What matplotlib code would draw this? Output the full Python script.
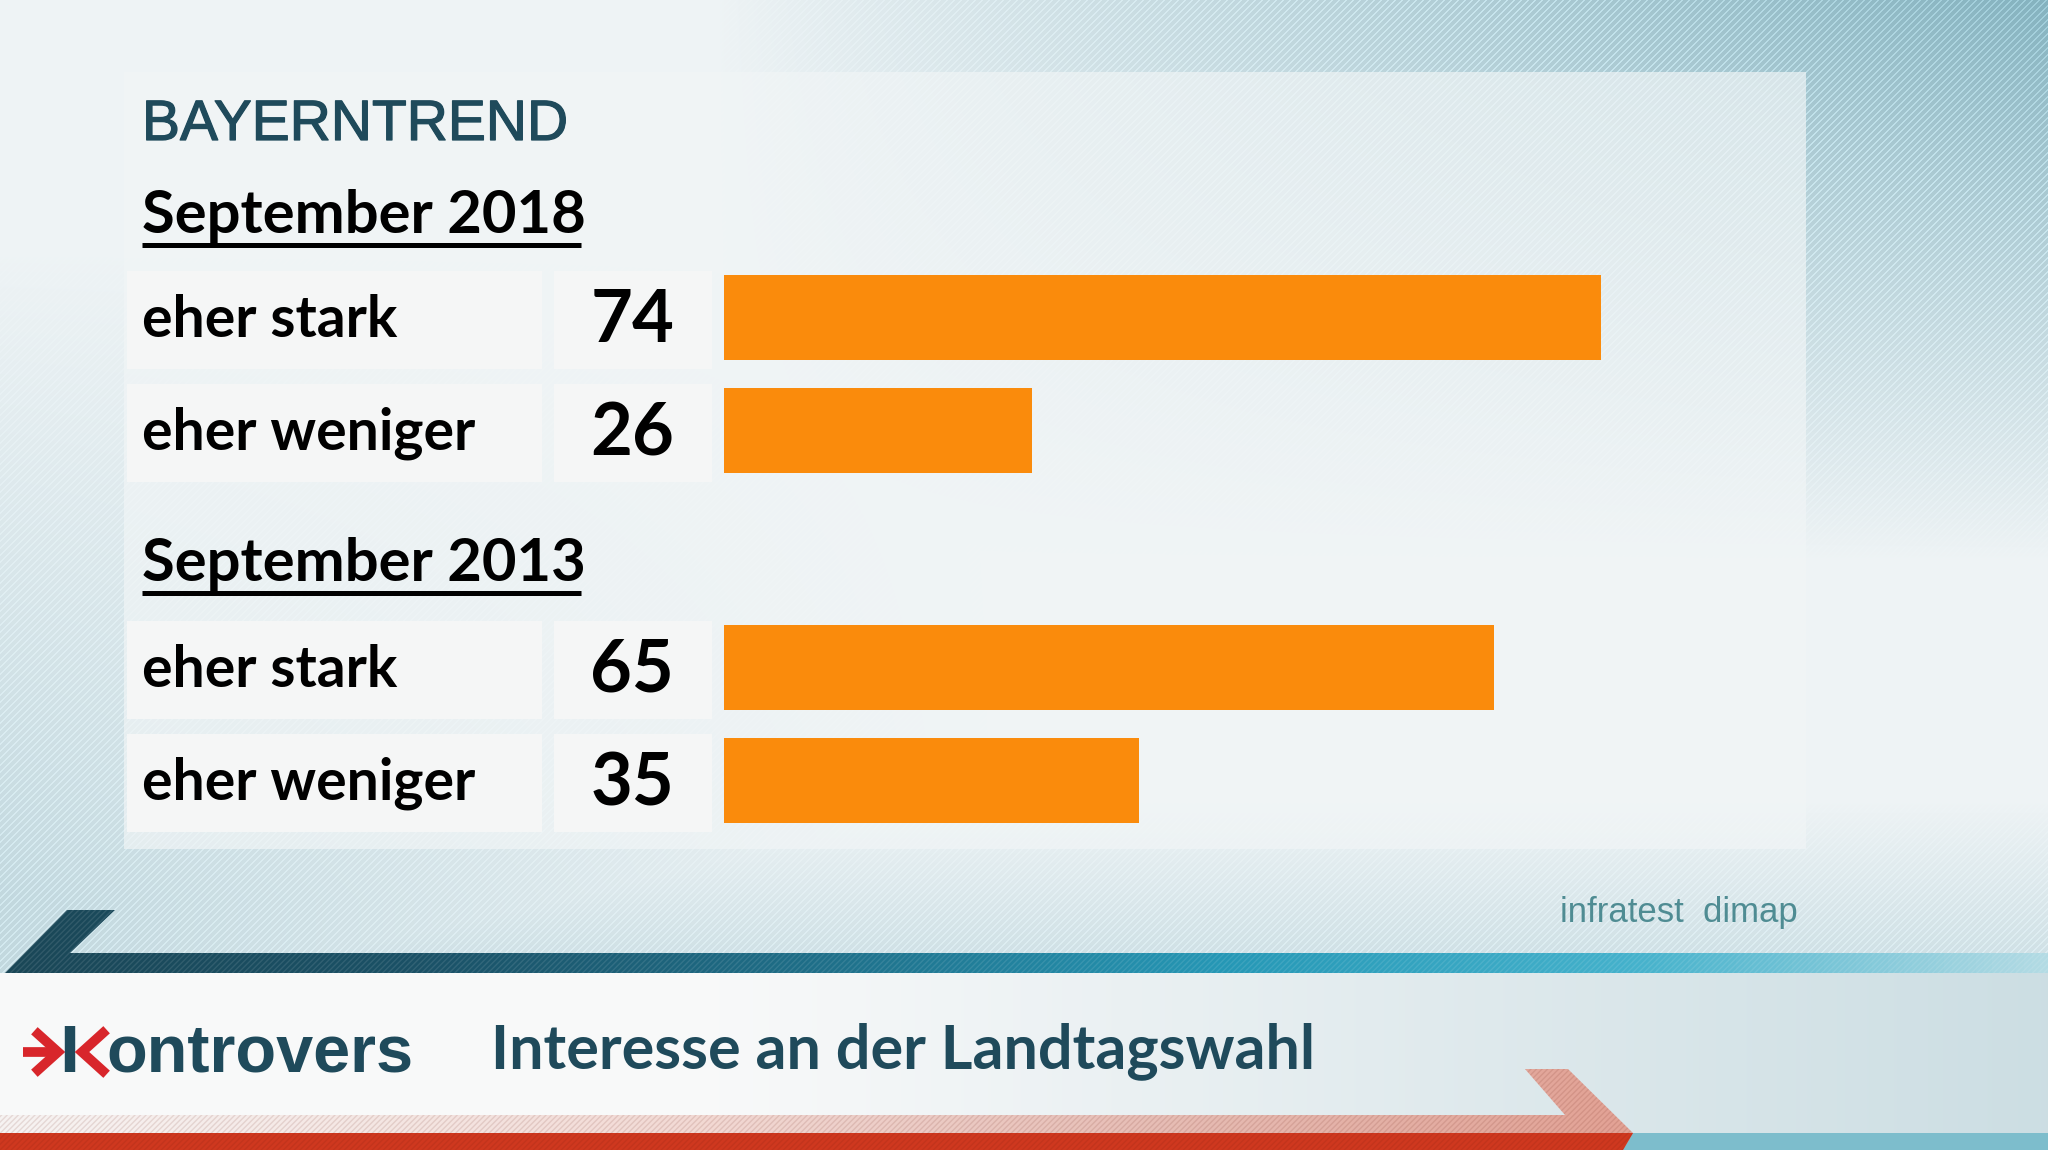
import numpy as np
import matplotlib
matplotlib.use("Agg")
import matplotlib.pyplot as plt
import matplotlib.patheffects as pe
from matplotlib.patches import Polygon, Rectangle
from matplotlib.colors import LinearSegmentedColormap, to_rgb

plt.rcParams['font.family'] = ['Lato', 'DejaVu Sans']

# chart content
brand = "BAYERNTREND"
title = "Interesse an der Landtagswahl"
source = "infratest  dimap"
groups = ["September 2018", "September 2013"]
answers = ["eher stark", "eher weniger"]
values_2018 = [74, 26]
values_2013 = [65, 35]

W, H = 2048, 1150
ORANGE = '#fa8b0c'
DARK = '#1f4a5b'

fig = plt.figure(figsize=(W / 100, H / 100), dpi=100)
bg = fig.add_axes([0, 0, 1, 1])
bg.set_xlim(0, W)
bg.set_ylim(H, 0)
bg.axis('off')

# ---- background: light blue-grey gradient with diagonal stripes
yy, xx = np.mgrid[0:H, 0:W].astype(float)
light = np.array([0.935, 0.955, 0.962])
dark = np.array([0.52, 0.70, 0.75])
t_tr = np.clip((xx / W - 0.35) / 0.65, 0, 1) ** 0.9 * np.clip(1 - yy / 560, 0, 1)
t_l = np.clip(1 - xx / 1000, 0, 1) * np.clip((yy - 250) / 650, 0, 1) * 0.42
t_low = np.clip((yy - 800) / 150, 0, 1) * 0.28
t = np.clip(np.maximum.reduce([t_tr, t_l, t_low]), 0, 1)
img = light * (1 - t[..., None]) + dark * t[..., None]
stripes = (np.sin(2 * np.pi * (xx + yy) / 7.0) > 0.45).astype(float)
img += (stripes * 0.10 * np.clip(t * 1.6, 0, 1))[..., None]

# lower white strip
band = (yy >= 973)
wg = np.clip((xx - 700) / 1348, 0, 1)
white = np.array([0.975, 0.978, 0.98])
blue = np.array([0.80, 0.87, 0.89])
strip = white * (1 - wg[..., None]) + blue * wg[..., None]
img[band] = strip[band]
img = np.clip(img, 0, 1)
bg.imshow(img, extent=(0, W, H, 0), aspect='auto', zorder=0, interpolation='bilinear')

# lighter content panel
bg.add_patch(Rectangle((124, 72), 1682, 777, facecolor='#f1f5f6', alpha=0.68,
                       edgecolor='none', zorder=1))

# ---- teal L-shaped band
teal = LinearSegmentedColormap.from_list(
    'teal', ['#1a4757', '#1b5166', '#1f6f89', '#2698b6', '#45b2cc', '#b3dbe4'])
grad = np.linspace(0, 1, 512)[None, :]
tim = bg.imshow(grad, extent=(0, W, 975, 905), cmap=teal, aspect='auto', zorder=3)
teal_shape = Polygon([(67, 910), (115, 910), (70, 953), (W, 953), (W, 973), (5, 973)],
                     closed=True, facecolor='none', edgecolor='none')
bg.add_patch(teal_shape)
tim.set_clip_path(teal_shape)
bg.add_patch(Polygon(teal_shape.get_xy(), closed=True, facecolor='none', lw=0,
                     hatch='//////', edgecolor=(1, 1, 1, 0.10), zorder=4))

# ---- red arrow band at the bottom
bg.add_patch(Rectangle((1600, 1133), W - 1600, 17, facecolor='#7dbdcc',
                       edgecolor='none', zorder=2))
pale = [(1525, 1069), (1568, 1069), (1633, 1133), (1623, 1150), (0, 1150),
        (0, 1115), (1565, 1115)]
salmon = np.zeros((1, 512, 4))
salmon[..., :3] = to_rgb('#e58e7c')
salmon[..., 3] = np.linspace(0.15, 0.85, 512) ** 1.5
sim = bg.imshow(salmon, extent=(0, 1640, 1150, 1065), aspect='auto', zorder=3)
pale_shape = Polygon(pale, closed=True, facecolor='none', edgecolor='none')
bg.add_patch(pale_shape)
sim.set_clip_path(pale_shape)
bg.add_patch(Polygon([(0, 1133), (1633, 1133), (1623, 1150), (0, 1150)], closed=True,
                     facecolor='#cf381f', edgecolor='none', zorder=4))
bg.add_patch(Polygon(pale, closed=True, facecolor='none', lw=0, hatch='//////',
                     edgecolor=(0.4, 0.1, 0.05, 0.12), zorder=5))

# ---- header
bg.text(142, 140, brand, fontsize=41, color=DARK, family=['Liberation Sans', 'DejaVu Sans'],
        ha='left', va='baseline', zorder=6,
        path_effects=[pe.withStroke(linewidth=0.9, foreground=DARK)])

centers = [317, 430, 667, 780]
group_base = [233, 581]
for gi, g in enumerate(groups):
    bg.text(142, group_base[gi], g, fontsize=43, fontweight='bold', color='black',
            ha='left', va='baseline', zorder=6)
    bg.plot([142, 581], [group_base[gi] + 12] * 2, color='black', lw=3.6,
            solid_capstyle='butt', zorder=6)

all_values = values_2018 + values_2013
for i, c in enumerate(centers):
    bg.add_patch(Rectangle((127, c - 46), 415, 98, facecolor='#f6f7f7', edgecolor='none',
                           alpha=0.95, zorder=2))
    bg.add_patch(Rectangle((554, c - 46), 158, 98, facecolor='#f6f7f7', edgecolor='none',
                           alpha=0.95, zorder=2))
    bg.text(142, c + 20, answers[i % 2], fontsize=41, fontweight='bold', color='black',
            ha='left', va='baseline', zorder=6)
    bg.text(674, c + 25, str(all_values[i]), fontsize=52, fontweight='bold', color='black',
            ha='right', va='baseline', zorder=6)

# ---- bars
ax = fig.add_axes([724 / W, 0, 1185 / W, 1])
ax.set_xlim(0, 100)
ax.set_ylim(H, 0)
ax.axis('off')
ax.patch.set_alpha(0)
ax.barh(centers[:2], values_2018, height=85, color=ORANGE, zorder=3)
ax.barh(centers[2:], values_2013, height=85, color=ORANGE, zorder=3)

# ---- source and footer
bg.text(1798, 922, source, fontsize=25, color='#4f8c93',
        family=['Liberation Sans', 'DejaVu Sans'], ha='right', va='baseline', zorder=6)

# kontrovers logo: red arrow + k, then text
RED = '#d8262b'
bg.plot([23, 52], [1052, 1052], color=RED, lw=7, solid_capstyle='butt', zorder=6)
bg.plot([38, 58, 38], [1034, 1052, 1070], color=RED, lw=7, solid_joinstyle='miter', zorder=6)
bg.plot([70, 70], [1026, 1072], color=DARK, lw=7.5, solid_capstyle='butt', zorder=6)
bg.plot([103, 82, 103], [1033, 1052, 1071], color=RED, lw=7, solid_joinstyle='miter', zorder=6)
bg.text(106, 1071, "ontrovers", fontsize=48, fontweight='bold', color=DARK,
        family=['Liberation Sans', 'DejaVu Sans'], ha='left', va='baseline', zorder=6)

bg.text(491, 1068, title, fontsize=44, fontweight='bold', color=DARK,
        ha='left', va='baseline', zorder=6)

fig.savefig('out.png', dpi=100)
